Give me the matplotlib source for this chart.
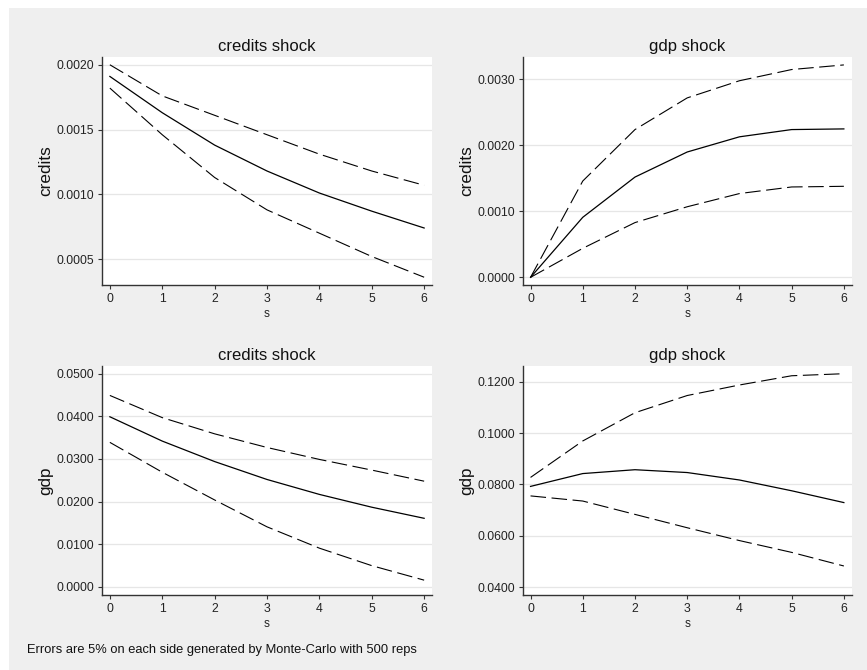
import matplotlib
matplotlib.use("Agg")
import matplotlib.pyplot as plt
from matplotlib.patches import Rectangle
import numpy as np

steps = [0, 1, 2, 3, 4, 5, 6]

# credits response to credits shock
cc_irf = [0.00191, 0.00163, 0.00138, 0.00118, 0.00101, 0.00087, 0.00074]
cc_hi = [0.00200, 0.00176, 0.00161, 0.00146, 0.00131, 0.00118, 0.00107]
cc_lo = [0.00182, 0.00146, 0.00113, 0.00088, 0.00070, 0.00052, 0.00036]

# credits response to gdp shock
cg_irf = [0.0, 0.00091, 0.00152, 0.00190, 0.00213, 0.00224, 0.00225]
cg_hi = [0.0, 0.00146, 0.00224, 0.00272, 0.00298, 0.00315, 0.00322]
cg_lo = [0.0, 0.00044, 0.00083, 0.00107, 0.00127, 0.00137, 0.00138]

# gdp response to credits shock
gc_irf = [0.0399, 0.0342, 0.0294, 0.0252, 0.0217, 0.0187, 0.0161]
gc_hi = [0.0449, 0.0397, 0.0359, 0.0327, 0.0299, 0.0274, 0.0248]
gc_lo = [0.0339, 0.0269, 0.0204, 0.0141, 0.0091, 0.0050, 0.0016]

# gdp response to gdp shock
gg_irf = [0.0792, 0.0842, 0.0857, 0.0846, 0.0817, 0.0775, 0.0729]
gg_hi = [0.0827, 0.0969, 0.1079, 0.1146, 0.1187, 0.1223, 0.1231]
gg_lo = [0.0755, 0.0735, 0.0683, 0.0631, 0.0581, 0.0535, 0.0482]

titles = ["credits shock", "gdp shock", "credits shock", "gdp shock"]
ylabels = ["credits", "credits", "gdp", "gdp"]
yticks = [
    [0.0005, 0.0010, 0.0015, 0.0020],
    [0.0000, 0.0010, 0.0020, 0.0030],
    [0.0000, 0.0100, 0.0200, 0.0300, 0.0400, 0.0500],
    [0.0400, 0.0600, 0.0800, 0.1000, 0.1200],
]
ylims = [(0.00030, 0.00206), (-0.000116, 0.00334), (-0.00188, 0.0518), (0.0369, 0.1261)]
footnote = "Errors are 5% on each side generated by Monte-Carlo with 500 reps"

series = [
    (cc_irf, cc_hi, cc_lo),
    (cg_irf, cg_hi, cg_lo),
    (gc_irf, gc_hi, gc_lo),
    (gg_irf, gg_hi, gg_lo),
]

W, H = 867, 670
fig = plt.figure(figsize=(W / 100, H / 100), dpi=100)
fig.patch.set_facecolor("white")
bg = "#efefef"
fig.patches.append(Rectangle((9 / W, 0), 1 - 9 / W, 1 - 8 / H, transform=fig.transFigure,
                             facecolor=bg, edgecolor="none", zorder=-10))

plt.rcParams["font.family"] = ["Liberation Sans", "DejaVu Sans"]

boxes = [
    (102, 57, 432, 285),
    (522.7, 57, 851.7, 285),
    (102, 366, 432, 595),
    (522.7, 366, 851.7, 595),
]

dash = (0, (14, 5))
for i, (l, t, r, b) in enumerate(boxes):
    ax = fig.add_axes([l / W, 1 - b / H, (r - l) / W, (b - t) / H])
    ax.set_facecolor("white")
    irf, hi, lo = series[i]
    ax.plot(steps, hi, color="black", lw=0.8, linestyle=dash)
    ax.plot(steps, irf, color="black", lw=0.9)
    ax.plot(steps, lo, color="black", lw=0.8, linestyle=dash)
    ax.set_xlim(-0.15, 6.15)
    ax.set_ylim(*ylims[i])
    ax.set_xticks(steps)
    ax.set_xticklabels([str(s) for s in steps])
    ax.set_yticks(yticks[i])
    ax.set_yticklabels(["%.4f" % v for v in yticks[i]])
    for y in yticks[i]:
        ax.axhline(y, color="#e6e6e6", lw=0.9, zorder=0)
    for sp in ["top", "right"]:
        ax.spines[sp].set_visible(False)
    for sp in ["left", "bottom"]:
        ax.spines[sp].set_color("#333333")
        ax.spines[sp].set_linewidth(1.0)
    ax.tick_params(axis="both", direction="out", length=3.2, width=0.8, color="#333333",
                   labelsize=8.8, labelcolor="#222222", pad=2.5)
    ax.set_title(titles[i], fontsize=12, color="#111111", pad=4)
    ax.set_ylabel(ylabels[i], fontsize=12.3, color="#111111", labelpad=2)
    ax.set_xlabel("s", fontsize=8.5, color="#222222", labelpad=2.5)

fig.text(27 / W, 1 - 650 / H, footnote, fontsize=9.3, color="#111111", va="center", ha="left")

fig.savefig("out.png", dpi=100, facecolor=fig.get_facecolor())
